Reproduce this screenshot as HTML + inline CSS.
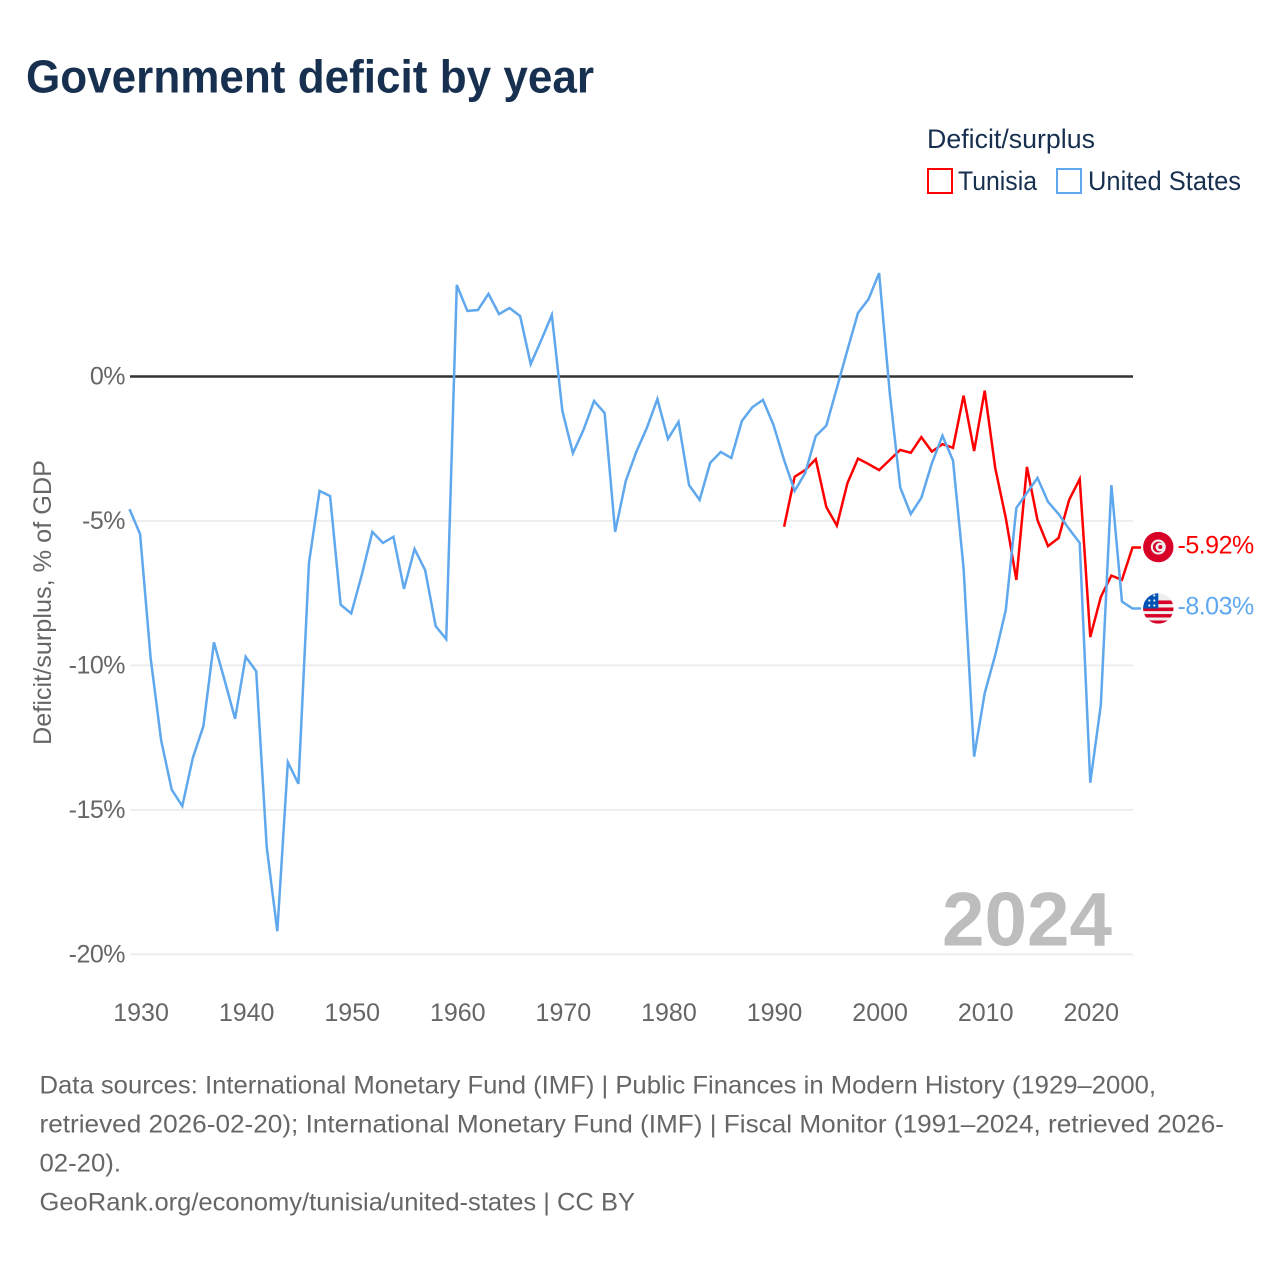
<!DOCTYPE html>
<html lang="en">
<head>
<meta charset="utf-8">
<title>Government deficit by year</title>
<style>
  html, body { margin: 0; padding: 0; background: #ffffff; }
  svg { display: block; font-family: "Liberation Sans", sans-serif; }
  .tick { fill: #666666; font-size: 25px; }
  .foot { fill: #666666; font-size: 25px; }
  .legend-text { fill: #18304f; font-size: 27px; }
</style>
</head>
<body>
<svg id="chart" xmlns="http://www.w3.org/2000/svg" width="1280" height="1280" viewBox="0 0 1280 1280">
  <defs>
    <clipPath id="us-clip"><circle cx="0" cy="0" r="15.2"></circle></clipPath>
  </defs>
  <rect x="0" y="0" width="1280" height="1280" fill="#ffffff"></rect>

  <text x="26" y="92.5" font-size="46" font-weight="700" fill="#18304f" textLength="568" lengthAdjust="spacingAndGlyphs">Government deficit by year</text>

  <text class="legend-text" x="927" y="148" textLength="168" lengthAdjust="spacingAndGlyphs">Deficit/surplus</text>
  <rect x="928" y="169" width="24" height="24" fill="#ffffff" stroke="#ff0000" stroke-width="2"></rect>
  <text class="legend-text" x="958" y="190" textLength="79" lengthAdjust="spacingAndGlyphs">Tunisia</text>
  <rect x="1057" y="169" width="24" height="24" fill="#ffffff" stroke="#5fa8ee" stroke-width="2"></rect>
  <text class="legend-text" x="1088" y="190" textLength="153" lengthAdjust="spacingAndGlyphs">United States</text>

  <text x="0" y="0" transform="translate(51,745) rotate(-90)" font-size="25" fill="#666666" textLength="285" lengthAdjust="spacingAndGlyphs">Deficit/surplus, % of GDP</text>

  <g id="grid"></g>
  <g id="y-ticks"></g>
  <g id="x-ticks"></g>

  <text x="942" y="945.5" font-size="76" font-weight="700" fill="#bdbdbd" textLength="170" lengthAdjust="spacingAndGlyphs">2024</text>

  <g id="series"></g>

  <g id="flag-tunisia">
    <circle cx="0" cy="0" r="15.2" fill="#d80027"></circle>
    <circle cx="0" cy="0" r="7.5" fill="#eeeeee"></circle>
    <circle cx="0" cy="0" r="5.4" fill="#d80027"></circle>
    <circle cx="1.6" cy="0" r="4.4" fill="#eeeeee"></circle>
    <circle cx="2" cy="0" r="2" fill="#d80027"></circle>
  </g>
  <g id="flag-us">
    <g clip-path="url(#us-clip)">
      <rect x="-16" y="-16" width="32" height="32" fill="#eeeeee"></rect>
      <rect x="-16" y="-8" width="32" height="3.6" fill="#d80027"></rect>
      <rect x="-16" y="-1" width="32" height="3.6" fill="#d80027"></rect>
      <rect x="-16" y="5.6" width="32" height="3.4" fill="#d80027"></rect>
      <rect x="-16" y="12" width="32" height="4" fill="#d80027"></rect>
      <rect x="-16" y="-16" width="16" height="16" fill="#0052b4"></rect>
      <circle cx="-9" cy="-3" r="1.1" fill="#eeeeee"></circle>
      <circle cx="-4" cy="-3" r="1.1" fill="#eeeeee"></circle>
      <circle cx="-9" cy="-8" r="1.1" fill="#eeeeee"></circle>
      <circle cx="-4" cy="-8" r="1.1" fill="#eeeeee"></circle>
      <circle cx="-4" cy="-13" r="1.1" fill="#eeeeee"></circle>
    </g>
  </g>
  <text id="value-tunisia" x="1177.5" y="555" font-size="25" fill="#ff0000" letter-spacing="-0.5"></text>
  <text id="value-us" x="1177.5" y="615" font-size="25" fill="#5fa8ee" letter-spacing="-0.5"></text>

  <g>
    <text class="foot" x="39.5" y="1093.5" textLength="1116.5" lengthAdjust="spacingAndGlyphs">Data sources: International Monetary Fund (IMF) | Public Finances in Modern History (1929–2000,</text>
    <text class="foot" x="39.5" y="1132.5" textLength="1184.5" lengthAdjust="spacingAndGlyphs">retrieved 2026-02-20); International Monetary Fund (IMF) | Fiscal Monitor (1991–2024, retrieved 2026-</text>
    <text class="foot" x="39.5" y="1171.5" textLength="81.5" lengthAdjust="spacingAndGlyphs">02-20).</text>
    <text class="foot" x="39.5" y="1210.5" textLength="595.5" lengthAdjust="spacingAndGlyphs">GeoRank.org/economy/tunisia/united-states | CC BY</text>
  </g>
</svg>

<script>
const usStartYear = 1929;
const usValues = [
  -4.59, -5.45, -9.74, -12.6, -14.3, -14.87, -13.2, -12.1, -9.2, -10.5,
  -11.85, -9.7, -10.2, -16.3, -19.2, -13.35, -14.1, -6.45, -3.96, -4.14,
  -7.9, -8.2, -6.87, -5.38, -5.76, -5.55, -7.35, -5.97, -6.7, -8.64,
  -9.09, 3.17, 2.27, 2.3, 2.86, 2.16, 2.37, 2.09, 0.43, 1.26,
  2.13, -1.19, -2.65, -1.85, -0.85, -1.26, -5.38, -3.62, -2.61, -1.78,
  -0.78, -2.16, -1.57, -3.76, -4.27, -2.99, -2.61, -2.82, -1.54, -1.06,
  -0.81, -1.68, -2.89, -3.96, -3.34, -2.06, -1.7, -0.4, 0.92, 2.2,
  2.68, 3.58, -0.54, -3.84, -4.76, -4.2, -3.0, -2.05, -2.91, -6.63,
  -13.16, -10.96, -9.64, -8.08, -4.55, -4.03, -3.51, -4.34, -4.76, -5.28,
  -5.76, -14.06, -11.37, -3.76, -7.79, -8.03
];
const tunisiaStartYear = 1991;
const tunisiaValues = [
  -5.2, -3.47, -3.24, -2.86, -4.52, -5.16, -3.69, -2.84, -3.03, -3.24,
  -2.89, -2.54, -2.64, -2.1, -2.6, -2.34, -2.47, -0.66, -2.58, -0.49,
  -3.17, -4.9, -7.04, -3.13, -4.97, -5.87, -5.59, -4.27, -3.55, -9.02,
  -7.63, -6.89, -7.04, -5.92
];
const yTickValues = [0, -5, -10, -15, -20];
const xTickYears = [1930, 1940, 1950, 1960, 1970, 1980, 1990, 2000, 2010, 2020];

const SVG_NS = 'http://www.w3.org/2000/svg';
const gridLeft = 130;
const gridRight = 1133;
const plotLeft = 129.5;
const plotRight = 1132.5;
const connectorEnd = 1141;
const yearMin = 1929;
const yearMax = 2024;
const zeroY = 376.5;
const pxPerPercent = 28.89;

function xScale(year) {
  return plotLeft + (year - yearMin) * (plotRight - plotLeft) / (yearMax - yearMin);
}
function yScale(value) {
  return zeroY - value * pxPerPercent;
}
function make(tag, attrs, parent) {
  const el = document.createElementNS(SVG_NS, tag);
  Object.keys(attrs).forEach(function (k) { el.setAttribute(k, attrs[k]); });
  parent.appendChild(el);
  return el;
}

const gridGroup = document.getElementById('grid');
const yTickGroup = document.getElementById('y-ticks');
const xTickGroup = document.getElementById('x-ticks');
const seriesGroup = document.getElementById('series');

yTickValues.forEach(function (v) {
  if (v !== 0) {
    const line = make('line', { x1: gridLeft, x2: gridRight, y1: yScale(v), y2: yScale(v), stroke: '#eeeeee', 'stroke-width': 2 }, gridGroup);
    
    
  }
  const label = make('text', { class: 'tick', x: 125, y: yScale(v) + 8, 'text-anchor': 'end', 'letter-spacing': '-0.5' }, yTickGroup);
  label.textContent = v + '%';
  
  
});

xTickYears.forEach(function (year) {
  const label = make('text', { class: 'tick', x: xScale(year) + 1, y: 1021, 'text-anchor': 'middle' }, xTickGroup);
  label.textContent = String(year);
  
  
});

const zeroLine = make('line', { x1: gridLeft, x2: gridRight, y1: yScale(0), y2: yScale(0), stroke: '#333333', 'stroke-width': 2.4 }, gridGroup);



function seriesPoints(values, startYear) {
  const pts = values.map(function (v, i) {
    return xScale(startYear + i).toFixed(2) + ',' + yScale(v).toFixed(2);
  });
  pts.push(connectorEnd + ',' + yScale(values[values.length - 1]).toFixed(2));
  return pts.join(' ');
}

const usLine = make('polyline', { points: seriesPoints(usValues, usStartYear), fill: 'none', stroke: '#5fa8ee', 'stroke-width': 2.5, 'stroke-linejoin': 'miter' }, seriesGroup);



const tunisiaLine = make('polyline', { points: seriesPoints(tunisiaValues, tunisiaStartYear), fill: 'none', stroke: '#ff0000', 'stroke-width': 2.5, 'stroke-linejoin': 'miter' }, seriesGroup);



seriesGroup.appendChild(usLine);
seriesGroup.insertBefore(tunisiaLine, usLine);

const lastTunisia = tunisiaValues[tunisiaValues.length - 1];
const lastUs = usValues[usValues.length - 1];
document.getElementById('flag-tunisia').setAttribute('transform', 'translate(1158.3,' + (yScale(lastTunisia) - 0.5) + ')');
document.getElementById('flag-us').setAttribute('transform', 'translate(1158.3,' + yScale(lastUs) + ')');
const tunisiaLabel = document.getElementById('value-tunisia');
tunisiaLabel.textContent = lastTunisia.toFixed(2) + '%';
tunisiaLabel.setAttribute('y', yScale(lastTunisia) + 6);
const usLabel = document.getElementById('value-us');
usLabel.textContent = lastUs.toFixed(2) + '%';
usLabel.setAttribute('y', yScale(lastUs) + 6);
</script>
</body>
</html>
